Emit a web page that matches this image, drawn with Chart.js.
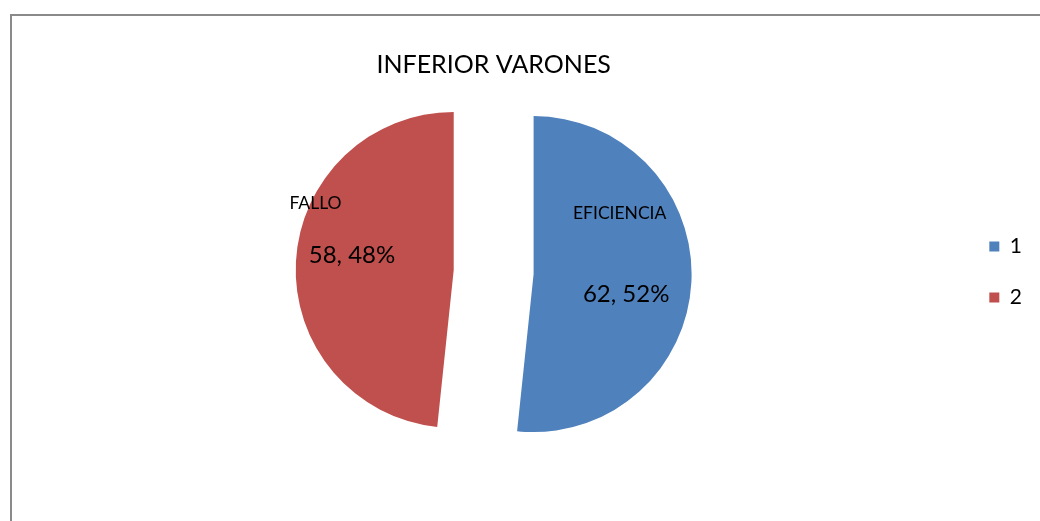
<!DOCTYPE html>
<html>
<head>
<meta charset="utf-8">
<script src="https://cdn.jsdelivr.net/npm/chart.js@4/dist/chart.umd.min.js"></script>
<style>
  html, body { margin: 0; padding: 0; background: #fff; }
  #wrap { position: relative; width: 1040px; height: 521px; overflow: hidden; }
  #frame { position: absolute; left: 10px; top: 14px; right: -10px; bottom: -10px;
           border-top: 2px solid #8a8a8a; border-left: 2px solid #8a8a8a; }
  canvas { position: absolute; left: 0; top: 0; }
</style>
</head>
<body>
<div id="wrap">
  <div id="frame"></div>
  <canvas id="c" width="1040" height="521"></canvas>
</div>
<script>
const title = 'INFERIOR VARONES';
const legendLabels = ['1', '2'];
const categories = ['EFICIENCIA', 'FALLO'];
const counts = [62, 58];
const colors = ['#4F81BD', '#C0504D'];

// where each slice's two labels sit: angle shift from the slice middle (deg), radius fraction
const labelPlace = [
  { cat: [-38, 0.665], val: [9.4, 0.60] },
  { cat: [22.6, 0.97], val: [5, 0.65] }
];

const EXPLODE = 40;
const FONT = 'Lato, "Open Sans", sans-serif';
const total = counts.reduce((s, v) => s + v, 0);

// pull every slice out along its middle angle (chart.js offset also narrows the slices)
const explode = {
  id: 'explode',
  afterDatasetsUpdate(chart) {
    chart.getDatasetMeta(0).data.forEach(arc => {
      const mid = (arc.startAngle + arc.endAngle) / 2;
      arc.x += Math.cos(mid) * EXPLODE;
      arc.y += Math.sin(mid) * EXPLODE;
    });
  }
};

const sliceLabels = {
  id: 'sliceLabels',
  afterDatasetsDraw(chart) {
    const ctx = chart.ctx;
    const arcs = chart.getDatasetMeta(0).data;
    ctx.save();
    ctx.fillStyle = '#000';
    ctx.textAlign = 'center';
    ctx.textBaseline = 'middle';
    arcs.forEach((arc, i) => {
      const { x, y, startAngle, endAngle, outerRadius: r } = arc;
      const mid = (startAngle + endAngle) / 2;
      const at = ([da, rf]) => {
        const a = mid + da * Math.PI / 180;
        return [x + Math.cos(a) * r * rf, y + Math.sin(a) * r * rf];
      };
      const pct = Math.round(counts[i] / total * 100);
      let p = at(labelPlace[i].cat);
      ctx.font = '17.5px ' + FONT;
      ctx.fillText(categories[i], p[0], p[1]);
      p = at(labelPlace[i].val);
      ctx.font = '24px ' + FONT;
      ctx.fillText(counts[i] + ', ' + pct + '%', p[0], p[1]);
    });
    ctx.restore();
  }
};

new Chart(document.getElementById('c'), {
  type: 'pie',
  data: {
    labels: legendLabels,
    datasets: [{
      data: counts,
      backgroundColor: colors,
      borderWidth: 0,
      hoverOffset: 0,
      radius: 158
    }]
  },
  options: {
    responsive: false,
    animation: false,
    events: [],
    layout: { padding: { left: 28, right: 8, top: 0, bottom: 71 } },
    plugins: {
      title: {
        display: true,
        text: title,
        fullSize: false,
        color: '#000',
        font: { family: FONT, size: 25, weight: 'normal', lineHeight: 1.2 },
        padding: { top: 50, bottom: 14 }
      },
      legend: {
        position: 'right',
        fullSize: false,
        labels: {
          boxWidth: 10,
          boxHeight: 10,
          padding: 30,
          color: '#000',
          font: { family: FONT, size: 21 }
        }
      },
      tooltip: { enabled: false }
    }
  },
  plugins: [explode, sliceLabels]
});
</script>
</body>
</html>
